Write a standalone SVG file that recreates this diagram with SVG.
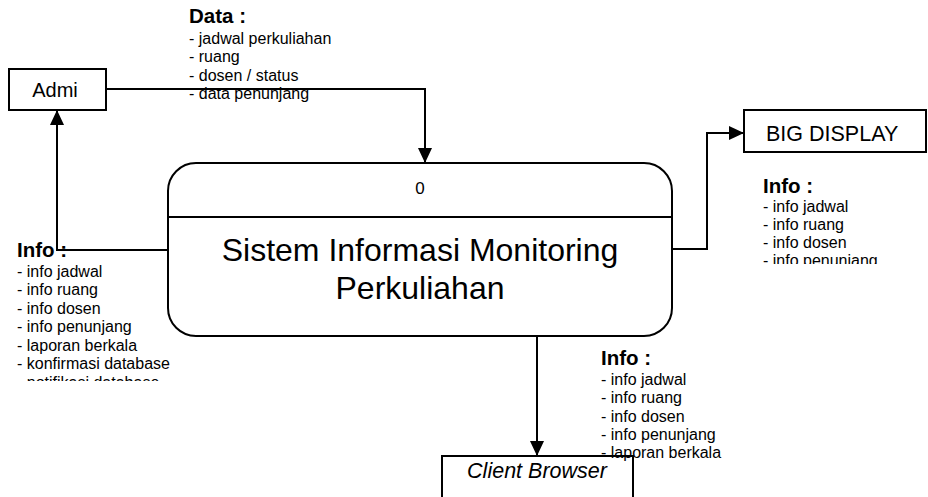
<svg xmlns="http://www.w3.org/2000/svg" width="928" height="497" viewBox="0 0 928 497">
<style>
.lbl{font-family:"Liberation Sans",Arial,sans-serif;font-size:16px;fill:#000}
.hd{font-family:"Liberation Sans",Arial,sans-serif;font-size:20.5px;font-weight:bold;fill:#000}
.nt{font-family:"Liberation Sans",Arial,sans-serif;fill:#000}
.box{fill:none;stroke:#000;stroke-width:2}
.ln{fill:none;stroke:#000;stroke-width:2}
</style>
<defs>
<marker id="ah" markerWidth="15" markerHeight="14" refX="15" refY="7" orient="auto" markerUnits="userSpaceOnUse">
<path d="M0,0 L15,7 L0,14 Z" fill="#000"/>
</marker>
<clipPath id="clipL"><rect x="0" y="240" width="200" height="141"/></clipPath>
<clipPath id="clipR"><rect x="740" y="170" width="188" height="94"/></clipPath>
</defs>
<rect width="928" height="497" fill="#fff"/>
<g id="labels">
<g id="data-label">
<text class="hd" x="189" y="23">Data :</text>
<text class="lbl" x="189" y="44">- jadwal perkuliahan</text>
<text class="lbl" x="189" y="62">- ruang</text>
<text class="lbl" x="189" y="81">- dosen / status</text>
<text class="lbl" x="189" y="99">- data penunjang</text>
</g>
<g id="info-left" clip-path="url(#clipL)">
<text class="hd" x="17" y="257">Info :</text>
<text class="lbl" x="17" y="277">- info jadwal</text>
<text class="lbl" x="17" y="295">- info ruang</text>
<text class="lbl" x="17" y="314">- info dosen</text>
<text class="lbl" x="17" y="332">- info penunjang</text>
<text class="lbl" x="17" y="351">- laporan berkala</text>
<text class="lbl" x="17" y="369">- konfirmasi database</text>
<text class="lbl" x="17" y="388">- notifikasi database</text>
</g>
<g id="info-right" clip-path="url(#clipR)">
<text class="hd" x="763" y="193">Info :</text>
<text class="lbl" x="763" y="212">- info jadwal</text>
<text class="lbl" x="763" y="230">- info ruang</text>
<text class="lbl" x="763" y="248">- info dosen</text>
<text class="lbl" x="763" y="266">- info penunjang</text>
</g>
<g id="info-bottom">
<text class="hd" x="601" y="365">Info :</text>
<text class="lbl" x="601" y="385">- info jadwal</text>
<text class="lbl" x="601" y="403">- info ruang</text>
<text class="lbl" x="601" y="422">- info dosen</text>
<text class="lbl" x="601" y="440">- info penunjang</text>
<text class="lbl" x="601" y="458">- laporan berkala</text>
</g>
</g>
<g id="admi">
<rect class="box" x="9" y="69" width="97" height="41"/>
<text class="nt" x="55" y="97" font-size="20" text-anchor="middle">Admi</text>
</g>
<g id="big-display">
<rect class="box" x="744" y="110" width="182" height="42"/>
<text class="nt" x="766" y="141" font-size="21.5">BIG DISPLAY</text>
</g>
<g id="client-browser">
<rect class="box" x="442" y="456" width="191" height="50"/>
<text class="nt" x="537" y="478" font-size="21.5" font-style="italic" text-anchor="middle">Client Browser</text>
</g>
<g id="process">
<rect class="box" x="168" y="163" width="504" height="173" rx="28" ry="28"/>
<line class="ln" x1="168" y1="217" x2="672" y2="217"/>
<text class="nt" x="420" y="194" font-size="17" text-anchor="middle">0</text>
<text class="nt" x="420" y="261" font-size="32" text-anchor="middle">Sistem Informasi Monitoring</text>
<text class="nt" x="420" y="299" font-size="32" text-anchor="middle">Perkuliahan</text>
</g>
<g id="connectors">
<polyline class="ln" points="106,89 425,89 425,163" marker-end="url(#ah)"/>
<polyline class="ln" points="168,250 57,250 57,110" marker-end="url(#ah)"/>
<polyline class="ln" points="672,249 707,249 707,133 744,133" marker-end="url(#ah)"/>
<polyline class="ln" points="537,336 537,456" marker-end="url(#ah)"/>
</g>
</svg>
